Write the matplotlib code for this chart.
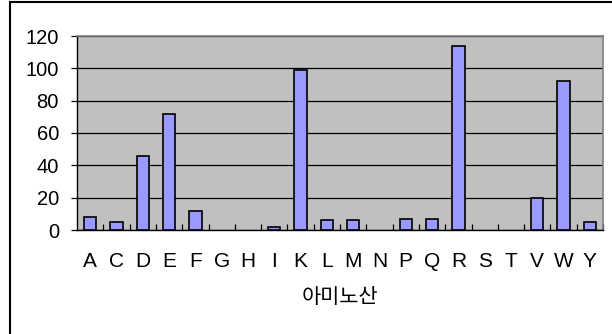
import matplotlib
matplotlib.use("Agg")
import matplotlib.pyplot as plt
from matplotlib.lines import Line2D

plt.rcParams['font.family'] = ['Liberation Sans', 'Noto Sans CJK KR', 'DejaVu Sans']

# amino acid counts
amino_acids = ["A", "C", "D", "E", "F", "G", "H", "I", "K", "L",
               "M", "N", "P", "Q", "R", "S", "T", "V", "W", "Y"]
counts = [8, 5, 46, 72, 12, 0, 0, 2, 99, 6,
          6, 0, 7, 7, 114, 0, 0, 20, 92, 5]
y_ticks = [0, 20, 40, 60, 80, 100, 120]
x_title = "아미노산"

fig = plt.figure(figsize=(6.12, 3.34), dpi=100)
ax = fig.add_axes([77 / 612, 1 - 230 / 334, 526 / 612, 194 / 334])
ax.set_facecolor("#c0c0c0")

x = list(range(len(amino_acids)))
# empty categories get no bar at all (no outline either)
edges = ["black" if c > 0 else "none" for c in counts]
ax.bar(x, counts, width=0.47, color="#9999ff", edgecolor=edges,
       linewidth=1.2, zorder=3)

ax.set_xlim(-0.5, len(amino_acids) - 0.5)
ax.set_ylim(0, 120)
ax.set_yticks(y_ticks)
ax.set_yticklabels([str(v) for v in y_ticks], fontsize=14.5)
ax.yaxis.grid(True, color="black", linewidth=0.9, zorder=1)
ax.set_axisbelow(True)

# category labels centred, tick marks between categories pointing inward
ax.set_xticks(x)
ax.set_xticklabels(amino_acids, fontsize=15)
ax.tick_params(axis="x", which="major", length=0, pad=16)
ax.set_xticks([i + 0.5 for i in x[:-1]] + [len(x) - 0.5], minor=True)
ax.tick_params(axis="x", which="minor", direction="in", length=4, width=0.9)
ax.tick_params(axis="y", direction="out", length=4, width=0.9, pad=9)
ax.set_xlabel(x_title, fontsize=15, labelpad=12)

for side in ("left", "bottom"):
    ax.spines[side].set_color("black")
    ax.spines[side].set_linewidth(1.0)
for side in ("top", "right"):
    ax.spines[side].set_color("#808080")
    ax.spines[side].set_linewidth(1.2)

# chart-area frame (only left and top edges fall inside the image)
fig.add_artist(Line2D([9.5 / 612, 9.5 / 612], [0, 1 - 1.5 / 334],
                      transform=fig.transFigure, color="black", linewidth=1.5))
fig.add_artist(Line2D([9.5 / 612, 1], [1 - 1.5 / 334, 1 - 1.5 / 334],
                      transform=fig.transFigure, color="black", linewidth=1.5))

fig.savefig("out.png", dpi=100)
